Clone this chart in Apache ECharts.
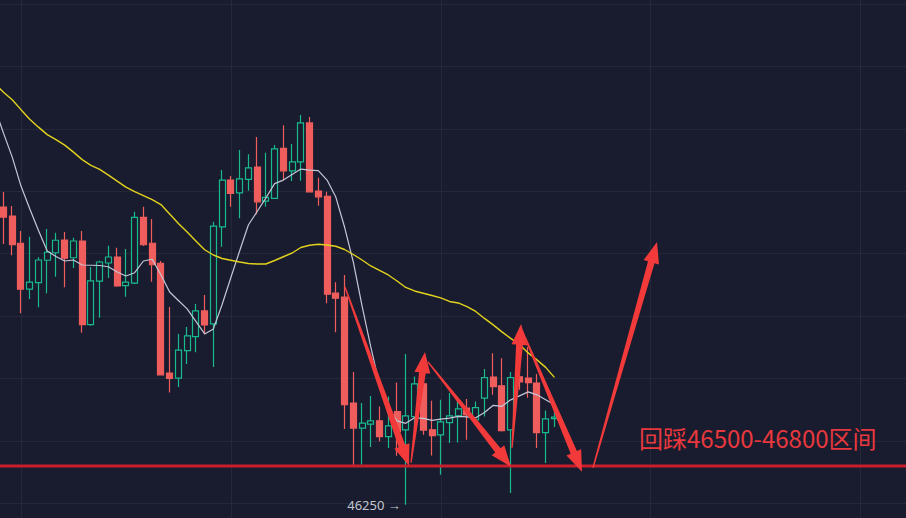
<!DOCTYPE html>
<html><head><meta charset="utf-8">
<script src="https://cdn.jsdelivr.net/npm/echarts@6/dist/echarts.min.js"></script>
<style>html,body{margin:0;padding:0;background:#191c2e;}#c{width:906px;height:518px;}</style>
</head><body><div id="c"></div>
<script>
// index 0 is an off-screen candle slot (only MA values are known there)
const opens = [null,
 47437,47401,47292,47108,47134,47224,47254,47305,47234,47301,
 46966,47140,47213,47237,47122,47132,47396,47292,47212,46772,
 46752,46862,46918,47021,46969,47358,47545,47494,47548,47597,
 47461,47472,47672,47582,47618,47774,47501,47480,47092,47076,
 46652,46552,46568,46581,46518,46618,46545,46598,46729,46545,
 46525,46574,46601,46632,46585,46672,46756,46721,46545,46757,
 46752,46732,46534,46590];
const closes = [null,
 47397,47286,47108,47136,47225,47256,47304,47232,47301,46966,
 47141,47217,47237,47121,47136,47396,47286,47206,46765,46751,
 46864,46921,47021,46965,47361,47545,47492,47550,47594,47458,
 47476,47670,47582,47618,47774,47498,47478,47088,47072,46646,
 46552,46572,46581,46518,46561,46538,46601,46729,46544,46522,
 46577,46601,46629,46605,46634,46754,46718,46542,46754,46737,
 46734,46534,46589,46596];
const lows = [null,
 47289,47244,47012,47069,47036,47092,47158,47116,47193,46934,
 46962,46994,47153,47118,47078,47129,47281,47138,46762,46694,
 46716,46809,46856,46928,46796,47278,47438,47392,47502,47408,
 47438,47470,47545,47541,47542,47495,47442,47052,46936,46548,
 46401,46405,46476,46498,46472,46441,46245,46545,46525,46442,
 46365,46492,46494,46505,46583,46598,46685,46538,46292,46705,
 46673,46472,46412,46556];
const highs = [null,
 47497,47441,47341,47318,47236,47349,47334,47337,47314,47341,
 47197,47222,47282,47274,47269,47418,47438,47389,47221,47037,
 46929,46957,47049,47085,47378,47585,47561,47665,47648,47718,
 47654,47685,47765,47689,47806,47798,47554,47498,47136,47165,
 46776,46652,46680,46638,46678,46734,46849,46758,46765,46661,
 46665,46692,46658,46668,46658,46788,46852,46832,46776,46805,
 46877,46768,46622,46623];
const maFast = [47833,
 47733,47637,47521,47430,47343,47261,47239,47221,47225,47205,
 47204,47203,47198,47177,47161,47174,47221,47228,47166,47097,
 47063,47029,46979,46929,46949,47047,47155,47261,47365,47419,
 47473,47531,47545,47567,47589,47585,47583,47545,47477,47357,
 47217,47041,46877,46725,46633,46581,46571,46593,46591,46583,
 46588,46592,46599,46597,46593,46614,46643,46639,46665,46681,
 46697,46685,46665,46645];
const maSlow = [47931,
 47897,47867,47827,47789,47757,47727,47707,47685,47657,47627,
 47604,47588,47565,47541,47517,47499,47483,47467,47447,47409,
 47371,47337,47301,47266,47245,47231,47224,47217,47211,47209,
 47209,47223,47238,47253,47275,47284,47288,47285,47280,47267,
 47247,47225,47201,47183,47165,47141,47115,47101,47092,47083,
 47073,47059,47053,47038,47019,46991,46965,46937,46911,46887,
 46853,46825,46795,46755];
// arrows: [tail index, tail price, head index, head price]
const arrows = [
 [40.05,47117,47.37,46401],
 [47.60,46413,49.20,46857],
 [49.54,46817,59.03,46397],
 [59.15,46473,60.18,46969],
 [60.29,46945,67.15,46377],
 [68.41,46393,75.73,47297]
];
const supportLevel = 46400;
const lowMark = {index: 47, price: 46245, text: '46250 →'};
const noteText = '回踩46500-46800区间';
const slotCount = 106;
const categories = [];
for (let i = 0; i < slotCount; i++) categories.push('K' + i);

const candleData = opens.map((o, i) => o == null ? '-' : [o, closes[i], lows[i], highs[i]]);

const BG = '#191c2e', GRID = '#242839', UP = '#17b98d', DOWN = '#ef5d5d', ARROW = '#f23a3a';

const chart = echarts.init(document.getElementById('c'), null, {renderer: 'svg', width: 906, height: 518});
chart.setOption({
  backgroundColor: BG,
  animation: false,
  grid: {left: -5.245, right: -6.98, top: -58.4, bottom: -47.9, outerBoundsMode: 'none', containLabel: false},
  xAxis: [
    {type: 'category', data: categories, boundaryGap: false,
     axisLine: {show: false}, axisTick: {show: false}, axisLabel: {show: false},
     splitLine: {show: true, interval: (i) => i % 24 === 3, lineStyle: {color: GRID, width: 1}}},
    {type: 'value', min: 0, max: slotCount - 1, show: false}
  ],
  yAxis: {type: 'value', min: 46000, max: 48500, interval: 250,
    axisLine: {show: false}, axisTick: {show: false}, axisLabel: {show: false},
    splitLine: {show: true, lineStyle: {color: GRID, width: 1}}},
  series: [
    {type: 'candlestick', data: candleData, barWidth: 6.5, z: 2,
     itemStyle: {color: BG, color0: DOWN, borderColor: UP, borderColor0: DOWN, borderWidth: 1.2},
     markPoint: {symbol: 'circle', symbolSize: 0,
       data: [{coord: [lowMark.index, lowMark.price], value: lowMark.text}],
       label: {show: true, position: 'left', distance: 5, formatter: lowMark.text,
         color: '#c3c6d0', fontSize: 13, fontFamily: 'Noto Sans, sans-serif'}}},
    {type: 'line', data: maFast, symbol: 'none', z: 3,
     lineStyle: {color: '#c4c7d8', width: 1.2}},
    {type: 'line', data: maSlow, symbol: 'none', z: 3,
     lineStyle: {color: '#e3d21e', width: 1.4}},
    {type: 'line', xAxisIndex: 1, data: [[0, supportLevel], [slotCount - 1, supportLevel]],
     symbol: 'none', z: 4, lineStyle: {color: '#c81e2d', width: 3}},
    {type: 'custom', xAxisIndex: 1, data: arrows, z: 5,
     encode: {x: [0, 2], y: [1, 3]},
     renderItem: (params, api) => {
       const p1 = api.coord([api.value(0), api.value(1)]);
       const p2 = api.coord([api.value(2), api.value(3)]);
       const dx = p2[0] - p1[0], dy = p2[1] - p1[1];
       const L = Math.hypot(dx, dy);
       const ux = dx / L, uy = dy / L, nx = -uy, ny = ux;
       const hl = 21, hw = 8, s0 = 0.7, s1 = 3.4;
       const bx = p2[0] - ux * hl, by = p2[1] - uy * hl;
       const pts = [
         [p1[0] + nx * s0, p1[1] + ny * s0],
         [bx + nx * s1, by + ny * s1],
         [bx + nx * hw, by + ny * hw],
         [p2[0], p2[1]],
         [bx - nx * hw, by - ny * hw],
         [bx - nx * s1, by - ny * s1],
         [p1[0] - nx * s0, p1[1] - ny * s0]
       ];
       return {type: 'polygon', shape: {points: pts}, style: {fill: ARROW}};
     }}
  ],
  graphic: [{type: 'text', left: 639, top: 425, z: 10,
    style: {text: noteText, fill: '#e8383d', fontSize: 24, fontFamily: '"Noto Sans CJK SC", sans-serif'}}]
});
</script></body></html>
